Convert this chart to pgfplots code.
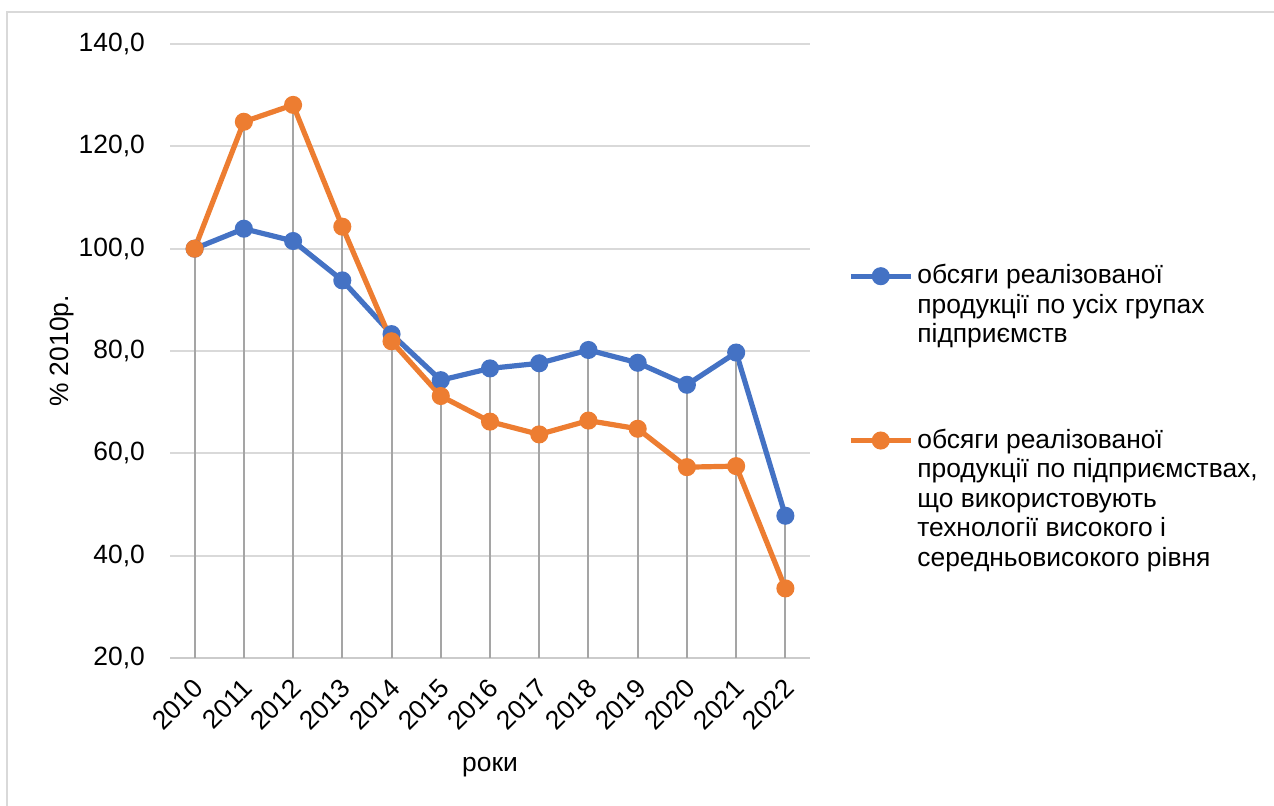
\documentclass[border=0pt]{standalone}
\usepackage{pgfplots}
\pgfplotsset{compat=1.18}
\usepackage{fontspec}
\setmainfont{Liberation Sans}
\definecolor{serblue}{HTML}{4472C4}
\definecolor{serorange}{HTML}{ED7D31}
\definecolor{gridgray}{HTML}{D9D9D9}
\definecolor{dropgray}{HTML}{A5A5A5}

\pgfplotstableread{
x val
0 100
1 103.9
2 101.5
3 93.8
4 83.3
5 74.3
6 76.6
7 77.6
8 80.2
9 77.7
10 73.4
11 79.7
12 47.8
}\allgroups

\pgfplotstableread{
x val
0 100
1 124.8
2 128.1
3 104.3
4 81.9
5 71.2
6 66.2
7 63.7
8 66.4
9 64.8
10 57.3
11 57.5
12 33.6
}\hightech

\begin{document}
\fontsize{13.2}{14.75}\selectfont
\begin{tikzpicture}
\useasboundingbox (0,0) rectangle (637pt,402.5pt);
\draw[gridgray, line width=1pt] (3.5pt,-10pt) -- (3.5pt,396.5pt) -- (650pt,396.5pt);
\begin{axis}[
    at={(85pt,73.5pt)}, anchor=south west,
    scale only axis,
    width=320pt, height=307pt,
    xmin=-0.5, xmax=12.5,
    ymin=20, ymax=140,
    ytick={20,40,...,140},
    xtick={0,...,12},
    xticklabels={2010,2011,2012,2013,2014,2015,2016,2017,2018,2019,2020,2021,2022},
    x tick label style={xshift=-1.5pt, yshift=-8pt, rotate=45, anchor=north east, inner sep=1pt},
    y tick label style={xshift=-8pt},
    yticklabel style={/pgf/number format/fixed, /pgf/number format/fixed zerofill,
        /pgf/number format/precision=1, /pgf/number format/use comma,
        /pgf/number format/assume math mode=true},
    major tick length=0pt,
    axis line style={draw=none},
    ymajorgrids,
    grid style={gridgray, line width=1pt},
    xlabel={роки},
    ylabel={\% 2010р.},
    every axis x label/.style={at={(axis description cs:0.5,-0.178)}, anchor=center},
    every axis y label/.style={at={(axis description cs:-0.169,0.5)}, rotate=90, anchor=center},
    legend style={draw=none, at={(axis description cs:1.059,0.648)}, anchor=north west,
        cells={align=left, anchor=west}, row sep=37pt, inner sep=0pt},
    legend cell align=left,
    legend image code/.code={\draw[#1, mark repeat=2, mark phase=2] plot coordinates {(0pt,0pt) (15pt,0pt) (30pt,0pt)};},
]
\draw[gridgray!85!gray, line width=1pt] (axis cs:-0.5,20) -- (axis cs:12.5,20);
\addplot[serblue, line width=2.6pt, mark=*, mark size=3.2pt,
    legend image post style={yshift=14.75pt}] table[x=x, y=val] {\allgroups};
\addlegendentry{обсяги реалізованої\\продукції по усіх групах\\підприємств}
\addplot[serorange, line width=2.6pt, mark=*, mark size=3.2pt,
    legend image post style={yshift=29.5pt}] table[x=x, y=val] {\hightech};
\addlegendentry{обсяги реалізованої\\продукції по підприємствах,\\що використовують\\технології високого і\\середньовисокого рівня}
\addplot[ycomb, dropgray, line width=1pt, forget plot] table[x=x, y=val] {\allgroups};
\addplot[ycomb, dropgray, line width=1pt, forget plot] table[x=x, y=val] {\hightech};
\end{axis}
\end{tikzpicture}
\end{document}
